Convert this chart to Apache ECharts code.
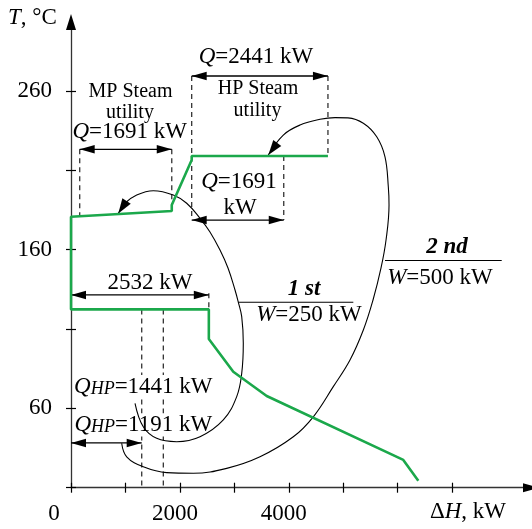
<!DOCTYPE html>
<html><head><meta charset="utf-8">
<script src="https://cdn.jsdelivr.net/npm/echarts@6/dist/echarts.min.js"></script>
<style>html,body{margin:0;padding:0;background:#fff}#c{width:532px;height:529px}</style>
</head><body><div id="c"></div>
<script>
// ---- axis ticks / labels ----
const xTickValues = [0, 1000, 2000, 3000, 4000, 5000, 6000, 7000];
const xLabelValues = [0, 2000, 4000];
const yTickValues = [10, 60, 110, 160, 210, 260];
const yLabelValues = [60, 160, 260];
const xMin = 0, xMax = 8450, yMin = 10, yMax = 302.6;

// ---- grand composite curve (ΔH kW, T °C) ----
const gccH = [4720, 2217, 2217, 1851, 1851, 0, 0, 2532, 2532, 2981, 3595, 6104, 6380];
const gccT = [219.1, 219.1, 216.5, 188.2, 184.4, 180.8, 122.4, 122.4, 103.7, 83.1, 67.8, 27.5, 14.4];

// ---- 1st heat pump loop ----
const curve1H = [1176, 1328, 1574, 1942, 2370, 2798, 3044, 3136, 3165, 3136, 3073, 3013, 2884, 2737, 2553, 2370, 2125, 1879, 1512, 1207, 992, 869];
const curve1T = [63.2, 48.4, 41.1, 39.0, 42.1, 52.7, 67.4, 82.1, 101.0, 117.8, 127.0, 134.6, 148.5, 159.8, 171.2, 179.8, 189.3, 194.5, 197.2, 194.5, 189.3, 182.9];

// ---- 2nd heat pump loop ----
const curve2H = [931, 1023, 1328, 1758, 2247, 2860, 3472, 4084, 4451, 4818, 5125, 5370, 5548, 5695, 5787, 5842, 5829, 5768, 5616, 5370, 5088, 4850, 4574, 4207, 3900, 3624];
const curve2T = [38.0, 29.5, 23.2, 19.5, 19.1, 22.2, 29.5, 42.1, 54.7, 73.7, 90.5, 109.4, 128.3, 148.5, 166.1, 188.2, 199.7, 218.6, 231.2, 239.7, 243.1, 243.3, 242.2, 238.6, 232.3, 219.7];

// ---- curve arrow heads: tip and preceding point ----
const headTipH = [869, 3624];
const headTipT = [182.9, 219.7];
const headPrevH = [992, 3900];
const headPrevT = [189.3, 232.3];

// ---- dimension arrows ----
const dimFrom = [160, 2217, 2217, 0, 0];
const dimTo = [1851, 4720, 3908, 2532, 1299];
const dimT = [223.3, 269.5, 178.7, 131.5, 38.2];

// ---- dashed guide lines ----
const guideH = [160, 1851, 2217, 4720, 3908, 2532, 1299, 1696];
const guideTop = [223.3, 223.3, 269.5, 269.5, 219.1, 132.6, 122.4, 122.4];
const guideBottom = [181.1, 184.4, 178.7, 219.1, 178.7, 122.4, 10, 10];

// ---- label rules (1st / 2nd) ----
const ruleFrom = [3073, 5768];
const ruleTo = [5186, 7912];
const ruleT = [126.9, 153.2];

const F = '"Liberation Serif", "Times New Roman", serif';
const GREEN = '#1ba84b';

const GL = 71, GT = 23.5, GW = 460, GH = 464.2;

function zip(a, b) { return a.map((v, i) => [v, b[i]]); }

function rich(size) {
  return {
    n: { fontSize: size, fontFamily: F, fill: '#000' },
    i: { fontSize: size, fontFamily: F, fontStyle: 'italic', fill: '#000' },
    b: { fontSize: size, fontFamily: F, fontStyle: 'italic', fontWeight: 'bold', fill: '#000' },
    s: { fontSize: 18, fontFamily: F, fontStyle: 'italic', fill: '#000', verticalAlign: 'bottom' }
  };
}
function txt(text, x, y, opts) {
  opts = opts || {};
  const st = {
    text: text, rich: rich(opts.size || 23), align: opts.align || 'center', verticalAlign: 'middle',
    fill: '#000', fontSize: opts.size || 23, fontFamily: F
  };
  if (opts.bg) { st.backgroundColor = '#fff'; }
  return { type: 'text', x: x, y: y, z: 2, style: st };
}

const chart = echarts.init(document.getElementById('c'), null, { renderer: 'canvas' });

const axisLineStyle = { color: '#333', width: 1.3 };
const tickStyle = { color: '#000', width: 1.2 };

const option = {
  animation: false,
  backgroundColor: '#fff',
  grid: { left: GL, top: GT, width: GW, height: GH, containLabel: false },
  xAxis: [
    {
      type: 'value', min: xMin, max: xMax, position: 'bottom',
      axisLine: { onZero: false, lineStyle: axisLineStyle },
      axisTick: { show: true, inside: false, length: 5, lineStyle: tickStyle, customValues: xTickValues },
      axisLabel: {
        customValues: xLabelValues, margin: 15,
        formatter: v => v === 0 ? '{z|0}' : '{n|' + v + '}',
        rich: {
          z: { fontSize: 23, fontFamily: F, color: '#000', padding: [0, 34, 0, 0] },
          n: { fontSize: 23, fontFamily: F, color: '#000', padding: [0, 10, 0, 0] }
        }
      },
      splitLine: { show: false }
    },
    {
      type: 'value', min: xMin, max: xMax, position: 'bottom',
      axisLine: { show: false, onZero: false },
      axisTick: { show: true, inside: true, length: 5, lineStyle: tickStyle, customValues: xTickValues },
      axisLabel: { show: false },
      splitLine: { show: false }
    }
  ],
  yAxis: [
    {
      type: 'value', min: yMin, max: yMax, position: 'left',
      axisLine: { onZero: false, lineStyle: axisLineStyle },
      axisTick: { show: true, inside: false, length: 5, lineStyle: tickStyle, customValues: yTickValues },
      axisLabel: { customValues: yLabelValues, margin: 19, fontSize: 23, fontFamily: F, color: '#000' },
      splitLine: { show: false }
    },
    {
      type: 'value', min: yMin, max: yMax, position: 'left',
      axisLine: { show: false, onZero: false },
      axisTick: { show: true, inside: true, length: 5, lineStyle: tickStyle, customValues: yTickValues },
      axisLabel: { show: false },
      splitLine: { show: false }
    }
  ],
  graphic: [
    txt('{i|T}{n|, °C}', 8, 17.5, { align: 'left' }),
    txt('{i|Q}{n|=2441 kW}', 256, 57),
    txt('{n|HP Steam}', 258, 89, { size: 20 }),
    txt('{n|utility}', 257.5, 111, { size: 20 }),
    txt('{n|MP Steam}', 130.5, 91.7, { size: 20 }),
    txt('{n|utility}', 130, 113, { size: 20 }),
    txt('{i|Q}{n|=1691 kW}', 129.7, 131.7),
    txt('{i|Q}{n|=1691}', 239, 182),
    txt('{n|kW}', 240, 208),
    txt('{n|2532 kW}', 150, 283),
    txt('{b|1 st}', 304, 289),
    txt('{i|W}{n|=250 kW}', 309, 315),
    txt('{b|2 nd}', 447, 247.5),
    txt('{i|W}{n|=500 kW}', 440, 278.3),
    txt('{i|Q}{s|HP}{n|=1441 kW}', 143.3, 386.5, { bg: true }),
    txt('{i|Q}{s|HP}{n|=1191 kW}', 143.3, 425, { bg: true }),
    txt('{n|Δ}{i|H}{n|, kW}', 468, 512)
  ],
  series: [
    {
      type: 'custom', name: 'guides', z: 1, clip: false,
      data: guideH.map((h, i) => [h, guideTop[i], guideBottom[i]]),
      renderItem: function (params, api) {
        const a = api.coord([api.value(0), api.value(1)]);
        const b = api.coord([api.value(0), api.value(2)]);
        return { type: 'line', shape: { x1: a[0], y1: a[1], x2: b[0], y2: b[1] },
          style: { stroke: '#333', lineWidth: 1.3, lineDash: [5, 4], fill: null } };
      }
    },
    {
      type: 'custom', name: 'axisArrows', z: 5, clip: false,
      data: [[xMin, yMax, 0], [xMax, yMin, 1]],
      renderItem: function (params, api) {
        const c = api.coord([api.value(0), api.value(1)]);
        let pts;
        if (api.value(2) === 0) {
          pts = [[c[0], c[1] - 9.5], [c[0] - 5, c[1] + 6.5], [c[0] + 5, c[1] + 6.5]];
        } else {
          pts = [[c[0] + 8, c[1]], [c[0] - 8, c[1] - 4.5], [c[0] - 8, c[1] + 4.5]];
        }
        return { type: 'polygon', shape: { points: pts }, style: { fill: '#000', stroke: null } };
      }
    },
    {
      type: 'line', name: '1st', z: 3, data: zip(curve1H, curve1T), smooth: 0.4,
      symbol: 'none', lineStyle: { color: '#000', width: 1.1 }
    },
    {
      type: 'line', name: '2nd', z: 3, data: zip(curve2H, curve2T), smooth: 0.4,
      symbol: 'none', lineStyle: { color: '#000', width: 1.1 }
    },
    {
      type: 'custom', name: 'heads', z: 3, clip: false,
      data: headTipH.map((h, i) => [h, headTipT[i], headPrevH[i], headPrevT[i]]),
      renderItem: function (params, api) {
        const t = api.coord([api.value(0), api.value(1)]);
        const p = api.coord([api.value(2), api.value(3)]);
        let dx = t[0] - p[0], dy = t[1] - p[1];
        const len = Math.sqrt(dx * dx + dy * dy); dx /= len; dy /= len;
        const L = 15, W = 5;
        const bx = t[0] - L * dx, by = t[1] - L * dy;
        return { type: 'polygon', shape: { points: [t, [bx - W * dy, by + W * dx], [bx + W * dy, by - W * dx]] },
          style: { fill: '#000', stroke: null } };
      }
    },
    {
      type: 'custom', name: 'dims', z: 3, clip: false,
      data: dimFrom.map((h, i) => [h, dimTo[i], dimT[i]]),
      renderItem: function (params, api) {
        const a = api.coord([api.value(0), api.value(2)]);
        const b = api.coord([api.value(1), api.value(2)]);
        const L = 15, W = 4.3;
        return { type: 'group', children: [
          { type: 'line', shape: { x1: a[0], y1: a[1], x2: b[0], y2: b[1] }, style: { stroke: '#000', lineWidth: 1.3, fill: null } },
          { type: 'polygon', shape: { points: [[a[0], a[1]], [a[0] + L, a[1] - W], [a[0] + L, a[1] + W]] }, style: { fill: '#000' } },
          { type: 'polygon', shape: { points: [[b[0], b[1]], [b[0] - L, b[1] - W], [b[0] - L, b[1] + W]] }, style: { fill: '#000' } }
        ] };
      }
    },
    {
      type: 'custom', name: 'rules', z: 3, clip: false,
      data: ruleFrom.map((h, i) => [h, ruleTo[i], ruleT[i]]),
      renderItem: function (params, api) {
        const a = api.coord([api.value(0), api.value(2)]);
        const b = api.coord([api.value(1), api.value(2)]);
        return { type: 'line', shape: { x1: a[0], y1: a[1], x2: b[0], y2: b[1] },
          style: { stroke: '#000', lineWidth: 1.2, fill: null } };
      }
    },
    {
      type: 'line', name: 'GCC', z: 4, data: zip(gccH, gccT), symbol: 'none',
      lineStyle: { color: GREEN, width: 2.6 }
    }
  ]
};
chart.setOption(option);
</script>
</body></html>
